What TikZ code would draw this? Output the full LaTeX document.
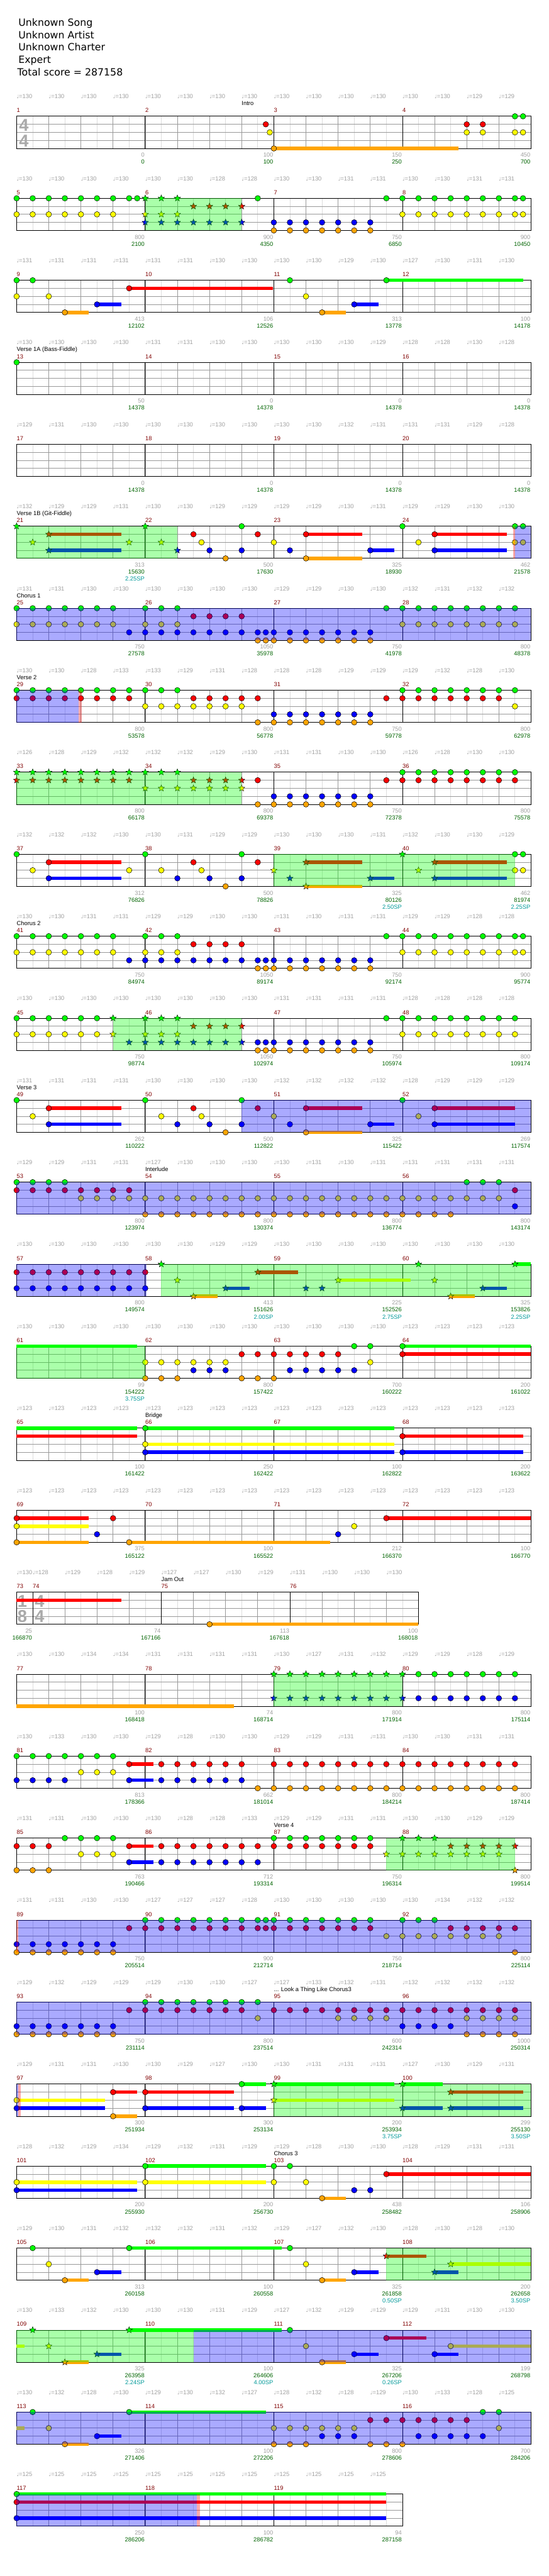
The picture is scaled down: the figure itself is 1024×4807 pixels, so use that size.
\documentclass[tikz,border=0pt]{standalone}
\usepackage{fontspec}
\setmainfont{Liberation Sans}
\newfontfamily\djv{DejaVu Sans}
\usetikzlibrary{shapes.geometric}

\definecolor{c0}{RGB}{0,255,0}
\definecolor{c1}{RGB}{255,0,0}
\definecolor{c2}{RGB}{255,255,0}
\definecolor{c3}{RGB}{0,0,255}
\definecolor{c4}{RGB}{255,165,0}
\definecolor{lblgray}{RGB}{160,160,160}
\definecolor{barred}{RGB}{128,0,0}
\definecolor{scoregreen}{RGB}{0,100,0}
\definecolor{spcyan}{RGB}{0,153,153}
\definecolor{halfgray}{RGB}{221,221,221}
\definecolor{beatgray}{RGB}{153,153,153}
\definecolor{tsgray}{RGB}{170,170,170}

\newcommand\lblfont{\fontsize{11}{13}\selectfont}
\newcommand\titlefont{\djv\fontsize{18.5}{22}\selectfont}
\newcommand\tsfont{\bfseries\fontsize{32}{32}\selectfont}

\tikzset{
  halfline/.style={draw=halfgray, line width=0.9pt},
  beatline/.style={draw=beatgray, line width=0.9pt},
  barline/.style={draw=black, line width=1pt},
  tempolbl/.style={anchor=base west, inner sep=0pt, text=lblgray, font=\lblfont},
  barnum/.style={anchor=base west, inner sep=0pt, text=barred, font=\lblfont},
  sectlbl/.style={anchor=base west, inner sep=0pt, font=\lblfont},
  basescore/.style={anchor=base east, inner sep=0pt, text=lblgray, font=\lblfont},
  totscore/.style={anchor=base east, inner sep=0pt, text=scoregreen, font=\lblfont},
  splbl/.style={anchor=base east, inner sep=0pt, text=spcyan, font=\lblfont},
  notehead/.style={draw=black, line width=0.6pt},
  starnote/.style={star, star points=5, star point ratio=2.3, minimum size=12.5pt,
    inner sep=0pt, draw=black, line width=0.5pt},
  tsig/.style={text=tsgray, font=\tsfont, inner sep=0pt}
}

% grid of one row: #1 beats, #2 first measure
\newcommand\staff[2]{%
  \pgfmathsetmacro\lasthalf{#1-0.5}
  \pgfmathtruncatemacro\lastbeat{#1-1}
  \pgfmathtruncatemacro\lastbar{#1/4-1}
  \foreach \i in {0.5,1.5,...,\lasthalf} {\draw[halfline] ({60*\i},0) -- ({60*\i},60);}
  \foreach \i in {1,...,\lastbeat} {\draw[beatline] ({60*\i},0) -- ({60*\i},60);}
  \foreach \j in {1,2,3} {\draw[beatline] (0,{15*\j}) -- ({60*#1},{15*\j});}
  \foreach \k in {0,...,\lastbar} {
    \ifnum\k>0 \draw[barline] ({240*\k},0) -- ({240*\k},60); \fi
    \pgfmathtruncatemacro\mm{#2+\k}
    \node[barnum] at ({240*\k},-7) {\mm};
  }
  \draw[barline] (0,0) rectangle ({60*#1},60);
}
\newcommand\tempo[1]{\foreach \tv [count=\i from 0] in {#1}
  {\node[tempolbl] at ({60*\i},-33) {{\djv\fontsize{9}{9}\selectfont ♩}=\tv};}}
\newcommand\tempoat[2]{\node[tempolbl] at ({60*(#1)},-33) {{\djv\fontsize{9}{9}\selectfont ♩}=#2};}
\newcommand\sect[2]{\node[sectlbl] at ({60*(#1)},-20) {#2};}
\newcommand\nts[2]{\foreach \bt in {#2} {\path[notehead, fill=c#1] ({60*\bt},{15*#1}) circle (5.2pt);}}
\newcommand\sts[2]{\foreach \bt in {#2} {\node[starnote, fill=c#1] at ({60*\bt},{15*#1}) {};}}
\newcommand\sus[3]{\fill[c#1] ({60*(#2)},{15*#1-3.25}) rectangle ({60*(#3)},{15*#1+3.25});}
\newcommand\spzone[2]{\fill[c0, opacity=0.333] ({60*(#1)},0) rectangle ({60*(#2)},60);}
\newcommand\actzone[2]{\fill[c3, opacity=0.333] ({60*(#1)},0) rectangle ({60*(#2)},60);}
\newcommand\pinkzone[2]{\fill[c1, opacity=0.333] ({60*(#1)},0) rectangle ({60*(#2)},60);}
\newcommand\barscore[3]{\node[basescore] at ({60*(#1)-1},76) {#2};
  \node[totscore] at ({60*(#1)-1},89) {#3};}
\newcommand\barscoresp[4]{\barscore{#1}{#2}{#3}\node[splbl] at ({60*(#1)-1},102) {#4SP};}

\begin{document}
\begin{tikzpicture}[x=1pt, y=-1pt]
\useasboundingbox[fill=white] (0,0) rectangle (1024,4807);

\node[anchor=base west, font=\titlefont] (song) at (31,49) {Unknown Song};
\node[anchor=base west, font=\titlefont] (artist) at (31,72) {Unknown Artist};
\node[anchor=base west, font=\titlefont] (charter) at (31,95) {Unknown Charter};
\node[anchor=base west, font=\titlefont] (diff) at (31,118) {Expert};
\node[anchor=base west, font=\titlefont] (total) at (29,141) {Total score = 287158};

% measures 1-4
\begin{scope}[shift={(31,217)}]
\staff{16}{1}
\node[tsig] at (13.5,16.5) {4};
\node[tsig] at (13.5,45.5) {4};
\tempo{130,130,130,130,130,130,130,130,130,130,130,130,130,130,129,129}
\sect{7}{Intro}
\sus{4}{8}{13.75}
\nts{1}{7.75,14,14.5}
\nts{2}{7.875,14,14.5,15.5,15.75}
\nts{4}{8}
\nts{0}{15.5,15.75}
\barscore{4}{0}{0}\barscore{8}{100}{100}\barscore{12}{150}{250}\barscore{16}{450}{700}
\end{scope}

% measures 5-8
\begin{scope}[shift={(31,370)}]
\staff{16}{5}
\tempo{130,130,130,130,130,130,128,128,130,130,131,131,130,130,131,131}
\nts{0}{0,0.5,...,3.5,3.75,7.5,11.5,12,...,15.5,15.75}
\nts{2}{0,0.5,...,3,12,12.5,...,15.5,15.75}
\sts{0}{4,4.5,5}
\sts{1}{5.5,6,6.5,7}
\sts{2}{4,4.5,5}
\sts{3}{4,4.5,...,7}
\nts{3}{8,8.5,...,11}
\nts{4}{8,8.5,...,11}
\spzone{4}{7}
\barscore{4}{800}{2100}\barscore{8}{900}{4350}\barscore{12}{750}{6850}\barscore{16}{900}{10450}
\end{scope}

% measures 9-12
\begin{scope}[shift={(31,523)}]
\staff{16}{9}
\tempo{131,131,131,131,131,131,130,130,130,130,129,130,127,130,131,130}
\sus{4}{1.5}{2.25}\sus{3}{2.5}{3.25}\sus{1}{3.5}{7.98}
\sus{4}{9.5}{10.25}\sus{3}{10.5}{11.25}\sus{0}{11.5}{15.75}
\nts{0}{0,0.5,8.5,11.5}
\nts{2}{0,1,9}
\nts{4}{1.5,9.5}\nts{3}{2.5,10.5}\nts{1}{3.5}
\barscore{4}{413}{12102}\barscore{8}{106}{12526}\barscore{12}{313}{13778}\barscore{16}{100}{14178}
\end{scope}

% measures 13-16
\begin{scope}[shift={(31,676)}]
\staff{16}{13}
\tempo{130,130,130,130,131,131,130,130,130,130,130,129,128,128,130,128}
\sect{0}{Verse 1A (Bass-Fiddle)}
\nts{0}{0}
\barscore{4}{50}{14378}\barscore{8}{0}{14378}\barscore{12}{0}{14378}\barscore{16}{0}{14378}
\end{scope}

% measures 17-20
\begin{scope}[shift={(31,829)}]
\staff{16}{17}
\tempo{129,131,130,130,130,130,130,130,130,130,132,131,131,131,129,128}
\barscore{4}{0}{14378}\barscore{8}{0}{14378}\barscore{12}{0}{14378}\barscore{16}{0}{14378}
\end{scope}

% measures 21-24
\begin{scope}[shift={(31,982)}]
\staff{16}{21}
\tempo{132,129,129,131,130,130,129,129,129,129,130,131,129,129,130,130}
\sect{0}{Verse 1B (Git-Fiddle)}
\sus{1}{1}{3.25}\sus{3}{1}{3.25}
\sus{1}{9}{10.75}\sus{4}{9}{10.75}\sus{3}{11}{11.75}\sus{1}{13}{15.25}\sus{3}{13}{15.25}
\sts{0}{0,4}\sts{1}{1}\sts{2}{0.5,3.5,4.5}\sts{3}{1,5}
\nts{1}{5.5,7.5,9,13}
\nts{2}{5.75,8,12.5,15.5,15.75}
\nts{3}{6,7,8.5,11,13}
\nts{4}{6.5,9}
\nts{0}{7,12,15.5,15.75}
\spzone{0}{5}\pinkzone{15.44}{15.5}\actzone{15.5}{16}
\barscoresp{4}{313}{15630}{2.25}\barscore{8}{500}{17630}\barscore{12}{325}{18930}\barscore{16}{462}{21578}
\end{scope}

% measures 25-28
\begin{scope}[shift={(31,1135)}]
\staff{16}{25}
\tempo{131,131,130,130,130,130,130,130,129,129,130,130,132,131,132,132}
\sect{0}{Chorus 1}
\nts{0}{0,0.5,...,3,4,4.5,5,11.5,12,...,15.5}
\nts{2}{0,0.5,...,3,4,4.5,5,12,12.5,...,15.5}
\nts{1}{5.5,6,6.5,7}
\nts{3}{3.5,4,...,7.5,7.75,8,8.5,...,11}
\nts{4}{7.5,7.75,8,8.5,...,11}
\actzone{0}{16}
\barscore{4}{750}{27578}\barscore{8}{1050}{35978}\barscore{12}{750}{41978}\barscore{16}{800}{48378}
\end{scope}

% measures 29-32
\begin{scope}[shift={(31,1288)}]
\staff{16}{29}
\tempo{130,130,128,133,133,129,131,128,128,128,129,129,129,132,128,130}
\sect{0}{Verse 2}
\nts{0}{0,0.5,...,5,12,12.5,...,15.5}
\nts{1}{0,0.5,...,3.5,5.5,6,...,7.5,11.5,12,...,15}
\nts{2}{4,4.5,...,7,15.5}
\nts{3}{8,8.5,...,11}
\nts{4}{7.5,8,...,11}
\actzone{0}{1.93}\pinkzone{1.93}{2.03}
\barscore{4}{800}{53578}\barscore{8}{800}{56778}\barscore{12}{750}{59778}\barscore{16}{800}{62978}
\end{scope}

% measures 33-36
\begin{scope}[shift={(31,1441)}]
\staff{16}{33}
\tempo{126,128,129,132,132,132,129,130,131,131,130,130,126,128,130,130}
\sts{0}{0,0.5,...,5}
\sts{1}{0,0.5,...,3.5,5.5,6,...,7}
\sts{2}{4,4.5,...,7}
\nts{1}{7.5,11.5,12,...,15.5}
\nts{3}{8,8.5,...,11}
\nts{4}{7.5,8,...,11}
\nts{0}{12,12.5,...,15.5}
\spzone{0}{7}
\barscore{4}{800}{66178}\barscore{8}{800}{69378}\barscore{12}{750}{72378}\barscore{16}{800}{75578}
\end{scope}

% measures 37-40
\begin{scope}[shift={(31,1594)}]
\staff{16}{37}
\tempo{132,132,132,130,130,131,129,129,130,130,130,131,132,130,130,129}
\sus{1}{1}{3.25}\sus{3}{1}{3.25}
\sus{1}{9}{10.75}\sus{4}{9}{10.75}\sus{3}{11}{11.75}\sus{1}{13}{15.25}\sus{3}{13}{15.25}
\nts{0}{0,4,7,15.5,15.75}
\nts{2}{0.5,3.5,4.5,5.75,15.5,15.75}
\nts{1}{1,5.5,7.5}
\nts{3}{1,5,6,7}
\nts{4}{6.5}
\sts{2}{8,12.5}\sts{3}{8.5,11,13}\sts{1}{9,13}\sts{4}{9}\sts{0}{12}
\spzone{8}{15.5}
\barscore{4}{312}{76826}\barscore{8}{500}{78826}\barscoresp{12}{325}{80126}{2.50}\barscoresp{16}{462}{81974}{2.25}
\end{scope}

% measures 41-44
\begin{scope}[shift={(31,1747)}]
\staff{16}{41}
\tempo{130,130,131,131,129,129,130,130,131,130,131,131,129,129,128,128}
\sect{0}{Chorus 2}
\nts{0}{0,0.5,...,3,4,4.5,5,11.5,12,...,15.5,15.75}
\nts{2}{0,0.5,...,3,4,4.5,5,12,12.5,...,15.5,15.75}
\nts{1}{5.5,6,6.5,7}
\nts{3}{3.5,4,...,7.5,7.75,8,8.5,...,11}
\nts{4}{7.5,7.75,8,8.5,...,11}
\barscore{4}{750}{84974}\barscore{8}{1050}{89174}\barscore{12}{750}{92174}\barscore{16}{900}{95774}
\end{scope}

% measures 45-48
\begin{scope}[shift={(31,1900)}]
\staff{16}{45}
\tempo{130,130,130,130,130,130,130,130,131,131,131,131,128,128,128,128}
\nts{0}{0,0.5,...,2.5,11.5,12,...,15.5}
\nts{2}{0,0.5,...,2.5,12,12.5,...,15.5}
\sts{0}{3,4,4.5,5}\sts{2}{3,4,4.5,5}\sts{1}{5.5,6,6.5,7}\sts{3}{3.5,4,...,7}
\nts{3}{7.5,7.75,8,8.5,...,11}
\nts{4}{7.5,7.75,8,8.5,...,11}
\spzone{3}{7}
\barscore{4}{750}{98774}\barscore{8}{1050}{102974}\barscore{12}{750}{105974}\barscore{16}{800}{109174}
\end{scope}

% measures 49-52
\begin{scope}[shift={(31,2053)}]
\staff{16}{49}
\tempo{131,131,131,131,130,130,130,130,132,132,132,132,128,129,129,129}
\sect{0}{Verse 3}
\sus{1}{1}{3.25}\sus{3}{1}{3.25}
\sus{1}{9}{10.75}\sus{4}{9}{10.75}\sus{3}{11}{11.75}\sus{1}{13}{15.5}\sus{3}{13}{15.5}
\nts{0}{0,4,7,12}
\nts{2}{0.5,4.5,5.75,8,12.5}
\nts{1}{1,5.5,7.5,9,13}
\nts{3}{1,5,6,7,8.5,11,13}
\nts{4}{6.5,9}
\actzone{7}{16}
\barscore{4}{262}{110222}\barscore{8}{500}{112822}\barscore{12}{325}{115422}\barscore{16}{269}{117574}
\end{scope}

% measures 53-56
\begin{scope}[shift={(31,2206)}]
\staff{16}{53}
\tempo{129,129,131,131,127,130,130,130,130,131,130,131,131,131,131,131}
\sect{4}{Interlude}
\nts{0}{0,0.5,1,1.5,14,14.5,15}
\nts{1}{0,0.5,...,3.5,15.5}
\nts{2}{2,2.5,...,15}
\nts{4}{4,4.5,...,13.5}
\nts{3}{15.5}
\actzone{0}{16}
\barscore{4}{800}{123974}\barscore{8}{800}{130374}\barscore{12}{800}{136774}\barscore{16}{800}{143174}
\end{scope}

% measures 57-60
\begin{scope}[shift={(31,2359)}]
\staff{16}{57}
\tempo{130,130,130,130,130,130,129,129,130,130,130,130,130,130,130,130}
\nts{1}{0,0.5,...,4}
\nts{3}{0,0.5,...,4}
\sus{4}{5.5}{6.25}\sus{3}{6.5}{7.25}\sus{1}{7.5}{8.75}\sus{2}{10}{12.25}
\sus{4}{13.5}{14.25}\sus{3}{14.5}{15.25}\sus{0}{15.5}{16}
\sts{0}{4.5,12.5,15.5}\sts{2}{5,10,13}\sts{4}{5.5,13.5}\sts{3}{6.5,9,9.5,14.5}\sts{1}{7.5}
\actzone{0}{4.05}\spzone{4.5}{16}
\barscore{4}{800}{149574}\barscoresp{8}{413}{151626}{2.00}\barscoresp{12}{225}{152526}{2.75}\barscoresp{16}{325}{153826}{2.25}
\end{scope}

% measures 61-64
\begin{scope}[shift={(31,2512)}]
\staff{16}{61}
\tempo{130,130,130,130,130,130,130,130,130,130,130,130,123,123,123,123}
\sus{0}{0}{3.75}\sus{0}{12}{16}\sus{1}{12}{16}
\nts{2}{4,4.5,...,6.5,11}
\nts{4}{4,4.5,5,7,7.5,8}
\nts{3}{5.5,6,6.5,8.5,9,...,10.5}
\nts{1}{7,7.5,...,10,12}
\nts{0}{10.5,11,12}
\spzone{0}{4}
\barscoresp{4}{99}{154222}{3.75}\barscore{8}{800}{157422}\barscore{12}{700}{160222}\barscore{16}{200}{161022}
\end{scope}

% measures 65-68
\begin{scope}[shift={(31,2665)}]
\staff{16}{65}
\tempo{123,123,123,123,123,123,123,123,123,123,123,123,123,123,123,123}
\sect{4}{Bridge}
\sus{0}{0}{3.75}\sus{1}{0}{3.75}
\sus{0}{4}{11.75}\sus{2}{4}{11.75}\sus{3}{4}{11.75}
\sus{1}{12}{15.75}\sus{3}{12}{15.75}
\nts{0}{4}\nts{2}{4}\nts{3}{4,12}\nts{1}{12}
\barscore{4}{100}{161422}\barscore{8}{250}{162422}\barscore{12}{100}{162822}\barscore{16}{200}{163622}
\end{scope}

% measures 69-72
\begin{scope}[shift={(31,2818)}]
\staff{16}{69}
\tempo{123,123,123,123,123,123,123,123,123,123,123,123,123,123,123,123}
\sus{1}{0}{2.25}\sus{2}{0}{2.25}\sus{4}{0}{2.25}\sus{4}{3.5}{9.75}\sus{1}{11.5}{16}
\nts{1}{0,3,11.5}
\nts{2}{0,10.5}
\nts{4}{0,3.5}
\nts{3}{2.5,10}
\barscore{4}{375}{165122}\barscore{8}{100}{165522}\barscore{12}{212}{166370}\barscore{16}{100}{166770}
\end{scope}

% measures 73-76 (1/8 bar, then 4/4)
\begin{scope}[shift={(31,2971)}]
\foreach \i in {1,...,12} {\draw[halfline] ({60*\i},0) -- ({60*\i},60);}
\foreach \i in {1.5,2.5,...,11.5} {\draw[beatline] ({60*\i},0) -- ({60*\i},60);}
\foreach \j in {1,2,3} {\draw[beatline] (0,{15*\j}) -- (750,{15*\j});}
\foreach \k/\m in {0.5/74,4.5/75,8.5/76} {
  \draw[barline] ({60*\k},0) -- ({60*\k},60);
  \node[barnum] at ({60*\k},-7) {\m};
}
\node[barnum] at (0,-7) {73};
\draw[barline] (0,0) rectangle (750,60);
\node[tsig] at (10.5,16.5) {1};
\node[tsig] at (10.5,45.5) {8};
\node[tsig] at (43,16.5) {4};
\node[tsig] at (43,45.5) {4};
\tempoat{0}{130}
\foreach \tv [count=\i from 0] in {128,129,128,129,127,127,130,129,131,130,130,130} {\tempoat{\i+0.5}{\tv}}
\sect{4.5}{Jam Out}
\sus{1}{0}{3.25}\sus{4}{6}{12.5}
\nts{4}{6}
\barscore{0.5}{25}{166870}\barscore{4.5}{74}{167166}\barscore{8.5}{113}{167618}\barscore{12.5}{100}{168018}
\end{scope}

% measures 77-80
\begin{scope}[shift={(31,3124)}]
\staff{16}{77}
\tempo{130,130,134,134,131,131,131,131,130,127,131,132,129,129,128,129}
\sus{4}{0}{6.75}
\sts{0}{8,8.5,...,12}\sts{3}{8,8.5,...,12}
\nts{0}{12.5,13,...,15.5}
\nts{3}{12.5,13,...,15.5}
\spzone{8}{12}
\barscore{4}{100}{168418}\barscore{8}{74}{168714}\barscore{12}{800}{171914}\barscore{16}{800}{175114}
\end{scope}

% measures 81-84
\begin{scope}[shift={(31,3277)}]
\staff{16}{81}
\tempo{130,133,130,130,129,128,130,130,129,129,131,131,130,130,131,131}
\sus{1}{3.5}{4.25}\sus{3}{3.5}{4.25}
\nts{0}{0,0.5,...,3}
\nts{3}{0,0.5,1,1.5,3.5,4.5,5,...,7}
\nts{2}{2,2.5,3}
\nts{1}{3.5,4.5,5,...,7,8,8.5,...,15.5}
\nts{4}{7.5,8,...,15.5}
\barscore{4}{813}{178366}\barscore{8}{662}{181014}\barscore{12}{800}{184214}\barscore{16}{800}{187414}
\end{scope}

% measures 85-88
\begin{scope}[shift={(31,3430)}]
\staff{16}{85}
\tempo{131,131,130,130,130,128,128,133,129,129,131,131,130,130,129,129}
\sect{8}{Verse 4}
\sus{1}{3.5}{4.25}\sus{3}{3.5}{4.25}
\nts{1}{0,0.5,1,3.5,4.5,5,...,7.5,8,8.5,...,11}
\nts{4}{0,0.5,1}
\nts{0}{1.5,2,2.5,3,8,8.5,...,11}
\nts{2}{2,2.5,3}
\nts{3}{3.5,4.5,5,...,7.5}
\sts{2}{11.5,12,...,15}\sts{0}{12,12.5,13}\sts{1}{13.5,14,...,15.5}\sts{4}{15.5}
\spzone{11.5}{15.5}
\barscore{4}{763}{190466}\barscore{8}{712}{193314}\barscore{12}{750}{196314}\barscore{16}{800}{199514}
\end{scope}

% measures 89-92
\begin{scope}[shift={(31,3583)}]
\staff{16}{89}
\tempo{131,131,130,130,127,127,127,128,130,130,130,130,130,134,132,132}
\nts{3}{0,0.5,...,3}
\nts{4}{0,0.5,...,3,15.5}
\nts{1}{3.5,4,...,7.5,7.75,8,8.5,...,11,13.5,14,...,15.5}
\nts{0}{4,4.5,...,7.5,7.75,8,8.5,...,11,12,12.5,13}
\nts{2}{11.5,12,...,15}
\pinkzone{0}{0.05}\actzone{0.05}{16}
\barscore{4}{750}{205514}\barscore{8}{900}{212714}\barscore{12}{750}{218714}\barscore{16}{800}{225114}
\end{scope}

% measures 93-96
\begin{scope}[shift={(31,3736)}]
\staff{16}{93}
\tempo{129,132,129,129,129,130,130,127,127,133,132,131,132,132,132,132}
\sect{8}{... Look a Thing Like Chorus3}
\nts{3}{0,0.5,...,3,12,12.5,13,13.5}
\nts{4}{0,0.5,...,3,14,14.5,15,15.5}
\nts{1}{3.5,4,...,7,8,8.5,...,15.5}
\nts{0}{4,4.5,...,7.5}
\nts{2}{7.5,10,10.5,11,11.5,14,14.5,15,15.5}
\actzone{0}{16}
\barscore{4}{750}{231114}\barscore{8}{800}{237514}\barscore{12}{600}{242314}\barscore{16}{1000}{250314}
\end{scope}

% measures 97-100
\begin{scope}[shift={(31,3889)}]
\staff{16}{97}
\tempo{129,131,131,130,130,129,127,130,130,131,131,131,127,130,129,131}
\sus{2}{0}{2.75}\sus{3}{0}{2.75}\sus{1}{3}{3.75}\sus{4}{3}{3.75}
\sus{1}{4}{6.75}\sus{3}{4}{6.75}\sus{0}{7}{7.75}\sus{3}{7}{7.75}
\sus{0}{8}{11.75}\sus{2}{8}{11.75}\sus{0}{12}{13.25}\sus{3}{12}{13.25}
\sus{1}{13.5}{15.75}\sus{3}{13.5}{15.75}
\nts{2}{0}\nts{3}{0,4,7}\nts{1}{3,4}\nts{4}{3}\nts{0}{7}
\sts{0}{8,12}\sts{2}{8}\sts{3}{12,13.5}\sts{1}{13.5}
\actzone{0}{0.05}\pinkzone{0.05}{0.13}\spzone{8}{16}
\barscore{4}{300}{251934}\barscore{8}{300}{253134}\barscoresp{12}{200}{253934}{3.75}\barscoresp{16}{299}{255130}{3.50}
\end{scope}

% measures 101-104
\begin{scope}[shift={(31,4042)}]
\staff{16}{101}
\tempo{128,132,129,134,129,132,131,129,129,128,130,130,128,129,131,131}
\sect{8}{Chorus 3}
\sus{2}{0}{3.75}\sus{3}{0}{3.75}\sus{0}{4}{7.75}\sus{2}{4}{7.75}
\sus{4}{9.5}{10.25}\sus{1}{11.5}{16}
\nts{2}{0,4,8,9}
\nts{3}{0,10.5,11}
\nts{0}{4,8,8.5}
\nts{4}{9.5}
\nts{1}{11.5}
\barscore{4}{200}{255930}\barscore{8}{200}{256730}\barscore{12}{438}{258482}\barscore{16}{106}{258906}
\end{scope}

% measures 105-108
\begin{scope}[shift={(31,4195)}]
\staff{16}{105}
\tempo{129,130,131,132,132,132,131,132,129,127,132,130,128,130,128,130}
\sus{4}{1.5}{2.25}\sus{3}{2.5}{3.25}\sus{0}{3.5}{8.25}\sus{4}{9.5}{10.25}\sus{3}{10.5}{11.25}
\sus{1}{11.5}{12.75}\sus{3}{13}{13.75}\sus{2}{13.5}{16}
\nts{0}{0.5,3.5,8.5}
\nts{2}{1,9}
\nts{4}{1.5,9.5}
\nts{3}{2.5,10.5}
\sts{1}{11.5}\sts{3}{13}\sts{2}{13.5}
\spzone{11.5}{16}
\barscore{4}{313}{260158}\barscore{8}{100}{260558}\barscoresp{12}{325}{261858}{0.50}\barscoresp{16}{200}{262658}{3.50}
\end{scope}

% measures 109-112
\begin{scope}[shift={(31,4348)}]
\staff{16}{109}
\tempo{130,133,132,130,130,130,131,129,127,132,129,129,129,131,130,130}
\sus{2}{0}{0.25}\sus{4}{1.5}{2.25}\sus{3}{2.5}{3.25}\sus{0}{3.5}{8.25}
\sus{4}{9.5}{10.25}\sus{3}{10.5}{11.25}\sus{1}{11.5}{12.75}\sus{3}{13}{13.75}\sus{2}{13.5}{16}
\sts{0}{0.5,3.5}\sts{2}{1}\sts{4}{1.5}\sts{3}{2.5}
\nts{0}{8.5}
\nts{2}{9,13.5}
\nts{4}{9.5}
\nts{3}{10.5,13}
\nts{1}{11.5}
\spzone{0}{5.5}\actzone{5.5}{16}
\barscoresp{4}{325}{263958}{2.24}\barscoresp{8}{100}{264606}{4.00}\barscoresp{12}{325}{267206}{0.26}\barscore{16}{199}{268798}
\end{scope}

% measures 113-116
\begin{scope}[shift={(31,4501)}]
\staff{16}{113}
\tempo{130,132,128,130,129,130,132,127,128,132,128,129,130,133,128,125}
\sus{2}{0}{0.25}\sus{4}{1.5}{2.25}\sus{3}{2.5}{3.25}\sus{0}{3.5}{7.75}
\nts{0}{0.5,3.5,14.5,15}
\nts{2}{1,8,8.5,...,10.5,15}
\nts{4}{1.5,8,8.5,9,11,11.5,12}
\nts{3}{2.5,9.5,10,10.5,12.5,13,...,14.5}
\nts{1}{11,11.5,...,14}
\actzone{0}{16}
\barscore{4}{326}{271406}\barscore{8}{100}{272206}\barscore{12}{800}{278606}\barscore{16}{700}{284206}
\end{scope}

% measures 117-119
\begin{scope}[shift={(31,4654)}]
\staff{12}{117}
\tempo{125,125,125,125,125,125,125,125,125,125,125,125}
\sus{0}{0}{11.5}\sus{1}{0}{11.5}\sus{3}{0}{11.5}
\nts{0}{0}\nts{1}{0}\nts{3}{0}
\actzone{0}{5.6}\pinkzone{5.6}{5.7}
\barscore{4}{250}{286206}\barscore{8}{100}{286782}\barscore{12}{94}{287158}
\end{scope}
\end{tikzpicture}
\end{document}
